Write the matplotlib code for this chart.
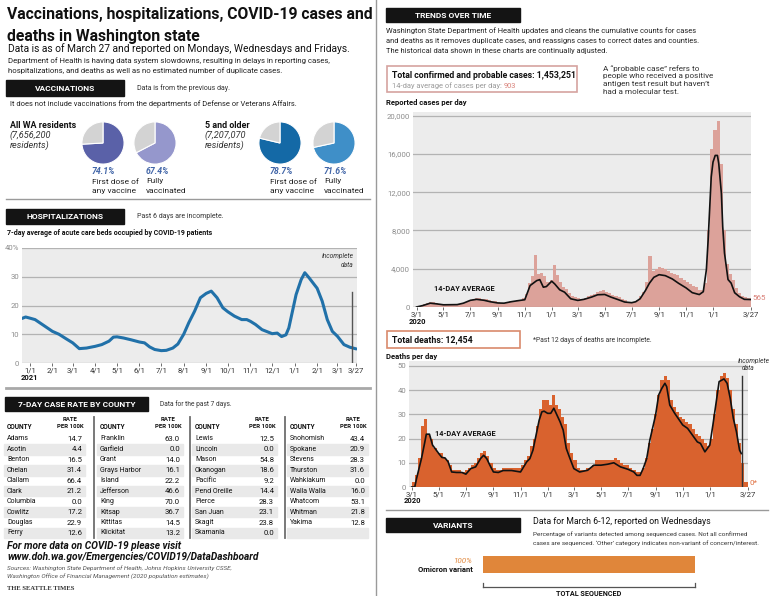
import numpy as np
import pandas as pd
import matplotlib
matplotlib.use('Agg')
import matplotlib.pyplot as plt
from matplotlib.patches import Rectangle
from matplotlib.lines import Line2D

plt.rcParams['font.family'] = ['Roboto', 'DejaVu Sans']

# ---- data ----
vacc_groups = ['All WA residents', '5 and older']
vacc_pop = ['(7,656,200', '(7,207,070']
first_dose = [74.1, 78.7]
fully_vacc = [67.4, 71.6]

hosp_dates = ['2020-12-21', '2020-12-26', '2021-01-01', '2021-01-08', '2021-01-18', '2021-02-01',
              '2021-02-10', '2021-02-20', '2021-03-01', '2021-03-10', '2021-03-20', '2021-04-01',
              '2021-04-10', '2021-04-20', '2021-04-26', '2021-05-01', '2021-05-10', '2021-05-20',
              '2021-06-01', '2021-06-08', '2021-06-15', '2021-06-22', '2021-07-01', '2021-07-08',
              '2021-07-17', '2021-07-24', '2021-08-01', '2021-08-08', '2021-08-16', '2021-08-24',
              '2021-09-01', '2021-09-08', '2021-09-16', '2021-09-24', '2021-10-01', '2021-10-10',
              '2021-10-20', '2021-10-27', '2021-11-01', '2021-11-08', '2021-11-17', '2021-12-01',
              '2021-12-08', '2021-12-14', '2021-12-20', '2021-12-24', '2021-12-29', '2022-01-03',
              '2022-01-10', '2022-01-15', '2022-01-21', '2022-01-28', '2022-02-01', '2022-02-08',
              '2022-02-15', '2022-02-22', '2022-03-01', '2022-03-10', '2022-03-18', '2022-03-27']
hosp_pct = [15.5, 16.0, 15.6, 15.1, 13.4, 11.0,
            10.0, 8.4, 7.0, 5.0, 5.2, 5.8,
            6.4, 7.6, 9.0, 9.1, 8.7, 8.1,
            7.3, 7.0, 5.6, 4.7, 4.3, 4.4,
            5.2, 6.6, 10.0, 14.0, 18.0, 22.7,
            24.2, 25.0, 22.7, 19.2, 17.8, 16.3,
            15.1, 15.1, 14.5, 13.4, 11.6, 10.2,
            10.4, 9.2, 9.8, 12.2, 18.0, 23.8,
            29.0, 31.4, 29.6, 27.3, 26.0, 21.5,
            15.1, 11.0, 9.3, 6.4, 5.5, 4.9]

counties = ['Adams', 'Asotin', 'Benton', 'Chelan', 'Clallam', 'Clark', 'Columbia', 'Cowlitz', 'Douglas', 'Ferry',
            'Franklin', 'Garfield', 'Grant', 'Grays Harbor', 'Island', 'Jefferson', 'King', 'Kitsap', 'Kittitas', 'Klickitat',
            'Lewis', 'Lincoln', 'Mason', 'Okanogan', 'Pacific', 'Pend Oreille', 'Pierce', 'San Juan', 'Skagit', 'Skamania',
            'Snohomish', 'Spokane', 'Stevens', 'Thurston', 'Wahkiakum', 'Walla Walla', 'Whatcom', 'Whitman', 'Yakima']
county_rates = [14.7, 4.4, 16.5, 31.4, 66.4, 21.2, 0.0, 17.2, 22.9, 12.6,
                63.0, 0.0, 14.0, 16.1, 22.2, 46.6, 70.0, 36.7, 14.5, 13.2,
                12.5, 0.0, 54.8, 18.6, 9.2, 14.4, 28.3, 23.1, 23.8, 0.0,
                43.4, 20.9, 28.3, 31.6, 0.0, 16.0, 53.1, 21.8, 12.8]

# weekly bars (week starting 2020-03-01), typical daily values
cases_week = [50, 150, 350, 450, 500,
              500, 400, 350, 300,
              300, 250, 250, 250, 300,
              300, 400, 500, 650,
              800, 900, 950, 850,
              800, 700, 650, 600, 500,
              450, 450, 500, 600,
              650, 700, 750, 900,
              1400, 2500, 3200, 5400, 3500,
              3600, 3200, 2600, 2800,
              4400, 3300, 2600, 2100, 1900,
              1500, 1200, 1000, 900,
              850, 900, 1100, 1300,
              1400, 1600, 1700, 1800,
              1600, 1500, 1300, 1100, 1000,
              800, 700, 550, 500,
              500, 700, 1100, 1600,
              2600, 5300, 3800, 4000, 4200,
              4100, 4000, 3800, 3600,
              3400, 3300, 3000, 2800, 2600,
              2400, 2200, 2100, 1800,
              1800, 2500, 8000, 16500,
              18500, 19500, 15000, 8000, 4500,
              3500, 2800, 2000, 1500,
              1200, 1000, 900]
cases_avg_dates = ['2020-03-01', '2020-03-15', '2020-04-01', '2020-04-15', '2020-05-01', '2020-06-01',
                   '2020-06-15', '2020-07-01', '2020-07-15', '2020-08-01', '2020-08-15', '2020-09-01',
                   '2020-09-15', '2020-10-01', '2020-10-15', '2020-11-01', '2020-11-13', '2020-11-28',
                   '2020-12-05', '2020-12-13', '2020-12-20', '2021-01-01', '2021-01-08', '2021-01-19',
                   '2021-01-30', '2021-02-13', '2021-03-01', '2021-03-15', '2021-04-01', '2021-04-15',
                   '2021-05-01', '2021-05-15', '2021-06-01', '2021-06-15', '2021-07-01', '2021-07-10',
                   '2021-07-20', '2021-08-01', '2021-08-10', '2021-08-20', '2021-09-01', '2021-09-15',
                   '2021-10-01', '2021-10-15', '2021-11-01', '2021-11-15', '2021-12-01', '2021-12-10',
                   '2021-12-17', '2021-12-21', '2021-12-25', '2021-12-28', '2022-01-01', '2022-01-06',
                   '2022-01-11', '2022-01-14', '2022-01-20', '2022-01-23', '2022-01-27', '2022-02-04',
                   '2022-02-11', '2022-02-19', '2022-03-02', '2022-03-13', '2022-03-27']
cases_avg = [0, 150, 400, 330, 230, 250,
             400, 700, 800, 700, 550, 420,
             400, 550, 650, 760, 2240, 2760,
             2860, 2070, 2140, 2700, 2400, 1800,
             1550, 860, 690, 800, 1035, 1280,
             1310, 1035, 760, 520, 450, 550,
             860, 1720, 2480, 3100, 3380, 3280,
             2930, 2480, 2000, 1500, 1300, 1600,
             3900, 7000, 10800, 13600, 15150, 15850,
             15850, 15000, 11870, 8400, 5640, 2870,
             2500, 1490, 1070, 800, 780]

deaths_week = [2, 5, 12, 25, 28,
               22, 20, 16, 14,
               14, 12, 11, 9, 7,
               7, 7, 6, 7,
               8, 9, 10, 12,
               14, 15, 13, 10, 8,
               7, 7, 8, 8,
               8, 8, 8, 8,
               9, 11, 13, 17, 20,
               25, 32, 36, 36,
               34, 38, 34, 32, 29,
               26, 18, 14, 11,
               8, 7, 7, 8,
               8, 9, 11, 11,
               11, 11, 11, 11, 12,
               11, 10, 9, 9,
               8, 7, 6, 6,
               8, 12, 18, 24, 30,
               38, 44, 46, 44,
               36, 33, 31, 29, 28,
               27, 26, 24, 22,
               21, 20, 18, 17,
               20, 30, 40, 46, 47,
               45, 40, 32, 26,
               18, 10, 2]
deaths_avg_dates = ['2020-03-01', '2020-03-08', '2020-03-12', '2020-03-23', '2020-03-30', '2020-04-03',
                    '2020-04-10', '2020-04-17', '2020-05-01', '2020-05-08', '2020-05-15', '2020-05-22',
                    '2020-05-30', '2020-06-10', '2020-06-22', '2020-07-01', '2020-07-12', '2020-07-23',
                    '2020-08-03', '2020-08-10', '2020-08-17', '2020-08-24', '2020-09-01', '2020-09-12',
                    '2020-09-23', '2020-10-12', '2020-11-01', '2020-11-08', '2020-11-15', '2020-11-22',
                    '2020-11-29', '2020-12-06', '2020-12-13', '2020-12-19', '2020-12-24', '2021-01-01',
                    '2021-01-08', '2021-01-15', '2021-01-22', '2021-01-29', '2021-02-05', '2021-02-12',
                    '2021-02-19', '2021-03-01', '2021-03-14', '2021-04-01', '2021-04-15', '2021-05-01',
                    '2021-05-16', '2021-05-30', '2021-06-14', '2021-07-01', '2021-07-14', '2021-07-21',
                    '2021-07-28', '2021-08-04', '2021-08-12', '2021-08-19', '2021-09-01', '2021-09-08',
                    '2021-09-15', '2021-09-22', '2021-09-26', '2021-10-03', '2021-10-14', '2021-11-01',
                    '2021-11-12', '2021-11-23', '2021-12-04', '2021-12-11', '2021-12-21', '2022-01-01',
                    '2022-01-08', '2022-01-15', '2022-01-22', '2022-02-02', '2022-02-09', '2022-02-16',
                    '2022-02-23', '2022-03-02', '2022-03-09', '2022-03-13']
deaths_avg = [0, 0, 3.5, 11.7, 18, 21.8,
              21.8, 17.3, 13.8, 12.2, 12, 10.4,
              6.2, 6, 6, 5.3, 7.6, 8.3,
              11.7, 13.1, 11.7, 9, 6.2, 6,
              6.8, 6.8, 6.2, 8.3, 10.4, 11.7,
              15.2, 21.4, 27.6, 31, 31.3, 30.4,
              30.4, 32.5, 29.7, 26.9, 23.5, 15.9,
              12.4, 7.6, 6.2, 6.9, 9, 9,
              9.4, 10, 8.3, 7.3, 6.2, 4.8,
              4.8, 7.6, 11.7, 19.3, 29.7, 38,
              40.7, 42.8, 41.4, 33.8, 30.4, 25.6,
              24.2, 21.4, 18.6, 18, 14.5, 17.3,
              25.6, 34.5, 43.5, 44.6, 42.8, 36.6,
              28.3, 22.8, 15.2, 13.8]

variant_name = 'Omicron variant'
variant_share = 100

W, H = 780, 596
fig = plt.figure(figsize=(W / 100, H / 100), dpi=100)


def fx(x):
    return x / W


def fy(y):
    return 1 - y / H


def txt(x, y, s, size=6.0, **kw):
    return fig.text(fx(x), fy(y), s, fontsize=size, va='center', **kw)


def add_ax(x0, y0, x1, y1):
    return fig.add_axes([fx(x0), fy(y1), (x1 - x0) / W, (y1 - y0) / H])


def hline(x0, x1, y, **kw):
    fig.add_artist(Line2D([fx(x0), fx(x1)], [fy(y), fy(y)], transform=fig.transFigure, **kw))


def vline(x, y0, y1, **kw):
    fig.add_artist(Line2D([fx(x), fx(x)], [fy(y0), fy(y1)], transform=fig.transFigure, **kw))


def black_box(x0, y0, x1, y1, s):
    fig.add_artist(Rectangle((fx(x0), fy(y1)), (x1 - x0) / W, (y1 - y0) / H,
                             transform=fig.transFigure, color='#141414'))
    txt((x0 + x1) / 2, (y0 + y1) / 2 + 0.5, s, 6.0, color='white', fontweight='bold', ha='center')


def style(ax):
    ax.set_facecolor('#ececec')
    for s in ax.spines.values():
        s.set_visible(False)
    ax.grid(axis='y', color='#b3b3b3', lw=0.9)
    ax.set_axisbelow(True)
    ax.tick_params(axis='y', length=0, labelsize=5.6, labelcolor='#8c8c8c', pad=2)
    ax.tick_params(axis='x', length=2, width=0.6, labelsize=5.6, labelcolor='#333', color='#555', pad=1.5)


# ---- left column ----
txt(7, 15, 'Vaccinations, hospitalizations, COVID-19 cases and', 11.3, fontweight='bold', color='#111')
txt(7, 36, 'deaths in Washington state', 11.3, fontweight='bold', color='#111')
txt(8, 49, 'Data is as of March 27 and reported on Mondays, Wednesdays and Fridays.', 7.4, color='#111')
txt(8, 61, 'Department of Health is having data system slowdowns, resulting in delays in reporting cases,', 5.6, color='#222')
txt(8, 71, 'hospitalizations, and deaths as well as no estimated number of duplicate cases.', 5.6, color='#222')

black_box(6, 80, 124, 96, 'VACCINATIONS')
txt(137, 88, 'Data is from the previous day.', 5.0, color='#333')
txt(10, 104, 'It does not include vaccinations from the departments of Defense or Veterans Affairs.', 5.4, color='#222')

pie_cx = [[103, 155], [280, 334]]
pie_cols = [['#5a61a8', '#9597cc'], ['#1469a6', '#3f8fc8']]
label_x = [[92, 146], [270, 324]]
group_x = [10, 205]
for g in range(2):
    txt(group_x[g], 125, vacc_groups[g], 6.4, fontweight='bold', color='#111')
    txt(group_x[g], 135, vacc_pop[g], 6.6, style='italic', color='#333')
    txt(group_x[g], 145, 'residents)', 6.6, style='italic', color='#333')
    for k, val in enumerate([first_dose[g], fully_vacc[g]]):
        cx, r = pie_cx[g][k], 21.5
        ax = add_ax(cx - r, 143 - r, cx + r, 143 + r)
        ax.pie([val, 100 - val], colors=[pie_cols[g][k], '#d3d3d3'], startangle=90,
               counterclock=False, wedgeprops=dict(linewidth=0.8, edgecolor='white'))
        ax.set_xlim(-1.02, 1.02)
        ax.set_ylim(-1.02, 1.02)
        ax.set_aspect('equal')
        lx = label_x[g][k]
        txt(lx, 172, f'{val}%', 6.3, style='italic', fontweight='bold', color='#4266a8')
        lines = ['First dose of', 'any vaccine'] if k == 0 else ['Fully', 'vaccinated']
        txt(lx, 181.5, lines[0], 6.0, color='#222')
        txt(lx, 191, lines[1], 6.0, color='#222')

hline(6, 370, 198.5, color='#9a9a9a', lw=1)

black_box(6, 209, 124, 224, 'HOSPITALIZATIONS')
txt(137, 217, 'Past 6 days are incomplete.', 5.0, color='#333')
txt(7, 233, '7-day average of acute care beds occupied by COVID-19 patients', 5.0, fontweight='bold', color='#111')

ax = add_ax(22, 248, 357, 363)
style(ax)
hd = pd.to_datetime(hosp_dates)
ax.plot(hd, hosp_pct, color='#2171a9', lw=2.2, solid_capstyle='round')
ax.set_ylim(0, 40)
ax.set_yticks([0, 10, 20, 30, 40])
ax.set_yticklabels(['0', '10', '20', '30', '40%'])
ax.set_xlim(pd.Timestamp('2020-12-21'), pd.Timestamp('2022-03-28'))
hticks = list(pd.date_range('2021-01-01', '2022-03-01', freq='MS')) + [pd.Timestamp('2022-03-27')]
ax.set_xticks(hticks)
ax.set_xticklabels([f'{d.month}/{d.day}' for d in hticks])
ax.axvline(pd.Timestamp('2022-03-21'), ymin=0, ymax=0.62, color='#555', lw=1)
ax.text(pd.Timestamp('2022-03-23'), 37.3, 'Incomplete', fontsize=4.8, style='italic', ha='right', va='center', color='#333')
ax.text(pd.Timestamp('2022-03-23'), 34.2, 'data', fontsize=4.8, style='italic', ha='right', va='center', color='#333')
txt(29, 378, '2021', 5.5, fontweight='bold', ha='center', color='#111')
hline(6, 370, 388, color='#a8a8a8', lw=2)

black_box(5, 397, 148, 411, '7-DAY CASE RATE BY COUNTY')
txt(160, 404, 'Data for the past 7 days.', 4.8, color='#333')

name_x = [7, 100, 195, 290]
val_x = [82, 180, 274, 365]
row_y0, row_dy = 439, 10.44
for c in range(4):
    txt(name_x[c], 427, 'COUNTY', 4.8, fontweight='bold', color='#111')
    txt(val_x[c] - 12, 419.5, 'RATE', 4.3, fontweight='bold', ha='center', color='#111')
    txt(val_x[c] - 12, 427, 'PER 100K', 4.3, fontweight='bold', ha='center', color='#111')
    for r in range(10):
        y = row_y0 + r * row_dy
        if r % 2 == 1:
            fig.add_artist(Rectangle((fx(name_x[c] - 3), fy(y + 5.2)), (val_x[c] - name_x[c] + 6) / W, row_dy / H,
                                     transform=fig.transFigure, color='#e9e9e9', zorder=0))
        i = c * 10 + r
        if i < len(counties):
            txt(name_x[c], y, counties[i], 5.0, color='#111')
            txt(val_x[c], y, f'{county_rates[i]:.1f}', 5.6, ha='right', color='#111')
for sx in [94, 190, 285]:
    vline(sx, 417, 538, color='#6e6e6e', lw=1.3)

txt(7, 546, 'For more data on COVID-19 please visit', 7.3, fontweight='bold', style='italic', color='#111')
txt(7, 557, 'www.doh.wa.gov/Emergencies/COVID19/DataDashboard', 7.3, fontweight='bold', style='italic', color='#111')
txt(7, 568.5, 'Sources: Washington State Department of Health, Johns Hopkins University CSSE,', 4.55, style='italic', color='#555')
txt(7, 576.5, 'Washington Office of Financial Management (2020 population estimates)', 4.55, style='italic', color='#555')
txt(7, 588.5, 'THE SEATTLE TIMES', 4.8, family='Liberation Serif', fontweight='bold', color='#333')

vline(376, 0, 596, color='#9a9a9a', lw=1)

# ---- right column ----
black_box(386, 8, 520, 22, 'TRENDS OVER TIME')
txt(386, 31, 'Washington State Department of Health updates and cleans the cumulative counts for cases', 5.45, color='#222')
txt(386, 41, 'and deaths as it removes duplicate cases, and reassigns cases to correct dates and counties.', 5.45, color='#222')
txt(386, 51, 'The historical data shown in these charts are continually adjusted.', 5.45, color='#222')

fig.add_artist(Rectangle((fx(387), fy(92)), 190 / W, 26 / H, transform=fig.transFigure,
                         facecolor='white', edgecolor='#d6a3a0', lw=1.2))
txt(392, 75, 'Total confirmed and probable cases: 1,453,251', 6.3, fontweight='bold', color='#111')
t = txt(392, 85.5, '14-day average of cases per day: ', 5.45, color='#9a9a9a')
fig.canvas.draw()
bb = t.get_window_extent()
fig.text(bb.x1 / W, fy(85.5), '903', fontsize=5.45, va='center', color='#d98078')
for k, s in enumerate(['A \u201cprobable case\u201d refers to', 'people who received a positive',
                       'antigen test result but haven\u2019t', 'had a molecular test.']):
    txt(603, 68.5 + k * 7.7, s, 5.9, color='#333')
txt(386, 102, 'Reported cases per day', 5.5, fontweight='bold', color='#111')

cases_ticks = [pd.Timestamp(d) for d in ['2020-03-01', '2020-05-01', '2020-07-01', '2020-09-01', '2020-11-01',
                                         '2021-01-01', '2021-03-01', '2021-05-01', '2021-07-01', '2021-09-01',
                                         '2021-11-01', '2022-01-01', '2022-03-27']]
tick_labels = [f'{d.month}/{d.day}' for d in cases_ticks]

ax = add_ax(413, 112, 751, 307)
style(ax)
wk = pd.date_range('2020-03-01', periods=len(cases_week), freq='7D')
ax.bar(wk, cases_week, width=7, align='edge', color='#dca29a', lw=0)
ax.plot(pd.to_datetime(cases_avg_dates), cases_avg, color='#111', lw=1.2)
ax.axhline(0, color='#777', lw=0.8)
ax.set_ylim(0, 20390)
ax.set_yticks([0, 4000, 8000, 12000, 16000, 20000])
ax.set_yticklabels(['0', '4,000', '8,000', '12,000', '16,000', '20,000'])
ax.set_xlim(pd.Timestamp('2020-02-22'), pd.Timestamp('2022-03-28'))
ax.set_xticks(cases_ticks)
ax.set_xticklabels(tick_labels)
txt(417, 321, '2020', 5.5, fontweight='bold', ha='center', color='#111')
txt(464, 289, '14-DAY AVERAGE', 5.3, fontweight='bold', ha='center', color='#111')
txt(752, 298, '565', 5.8, color='#d98078')

fig.add_artist(Rectangle((fx(387), fy(348)), 133 / W, 17 / H, transform=fig.transFigure,
                         facecolor='white', edgecolor='#d98a6c', lw=1.2))
txt(392, 339.5, 'Total deaths: 12,454', 6.3, fontweight='bold', color='#111')
txt(533, 340, '*Past 12 days of deaths are incomplete.', 4.9, color='#333')
txt(386, 357, 'Deaths per day', 5.5, fontweight='bold', color='#111')

ax = add_ax(409, 361, 748, 487)
style(ax)
ax.bar(wk, deaths_week, width=7, align='edge', color='#d9622e', lw=0)
ax.plot(pd.to_datetime(deaths_avg_dates), deaths_avg, color='#111', lw=1.2)
ax.axhline(0, color='#777', lw=0.8)
ax.set_ylim(0, 52)
ax.set_yticks([0, 10, 20, 30, 40, 50])
ax.set_xlim(pd.Timestamp('2020-02-24'), pd.Timestamp('2022-03-28'))
ax.set_xticks(cases_ticks)
ax.set_xticklabels(tick_labels)
ax.axvline(pd.Timestamp('2022-03-15'), ymin=0, ymax=0.88, color='#333', lw=1)
txt(754, 361, 'Incomplete', 4.8, style='italic', ha='center', color='#333')
txt(748, 368, 'data', 4.8, style='italic', ha='center', color='#333')
txt(749, 483, '0*', 5.8, color='#e07040')
txt(465, 434, '14-DAY AVERAGE', 5.3, fontweight='bold', ha='center', color='#111')
txt(412, 500.5, '2020', 5.5, fontweight='bold', ha='center', color='#111')

hline(386, 768, 510, color='#9a9a9a', lw=1)
black_box(386, 518, 520, 532, 'VARIANTS')
txt(533, 522, 'Data for March 6-12, reported on Wednesdays', 6.3, color='#111')
txt(533, 534, 'Percentage of variants detected among sequenced cases. Not all confirmed', 4.6, color='#333')
txt(533, 543, 'cases are sequenced. \u2018Other\u2019 category indicates non-variant of concern/interest.', 4.6, color='#333')

ax = add_ax(483, 556, 695, 573)
ax.barh([0], [variant_share], height=1, color='#e0863a', lw=0)
ax.set_xlim(0, 100)
ax.set_ylim(-0.5, 0.5)
ax.axis('off')
txt(472, 561, f'{variant_share}%', 5.8, style='italic', ha='right', color='#e0863a')
txt(473, 569.5, variant_name, 5.5, fontweight='bold', ha='right', color='#111')
hline(483, 695, 587, color='#555', lw=0.9)
vline(483, 583, 587, color='#555', lw=0.9)
vline(695, 583, 587, color='#555', lw=0.9)
txt(589, 593, 'TOTAL SEQUENCED', 5.2, fontweight='bold', ha='center', color='#111')

fig.savefig('out.png', dpi=100)
